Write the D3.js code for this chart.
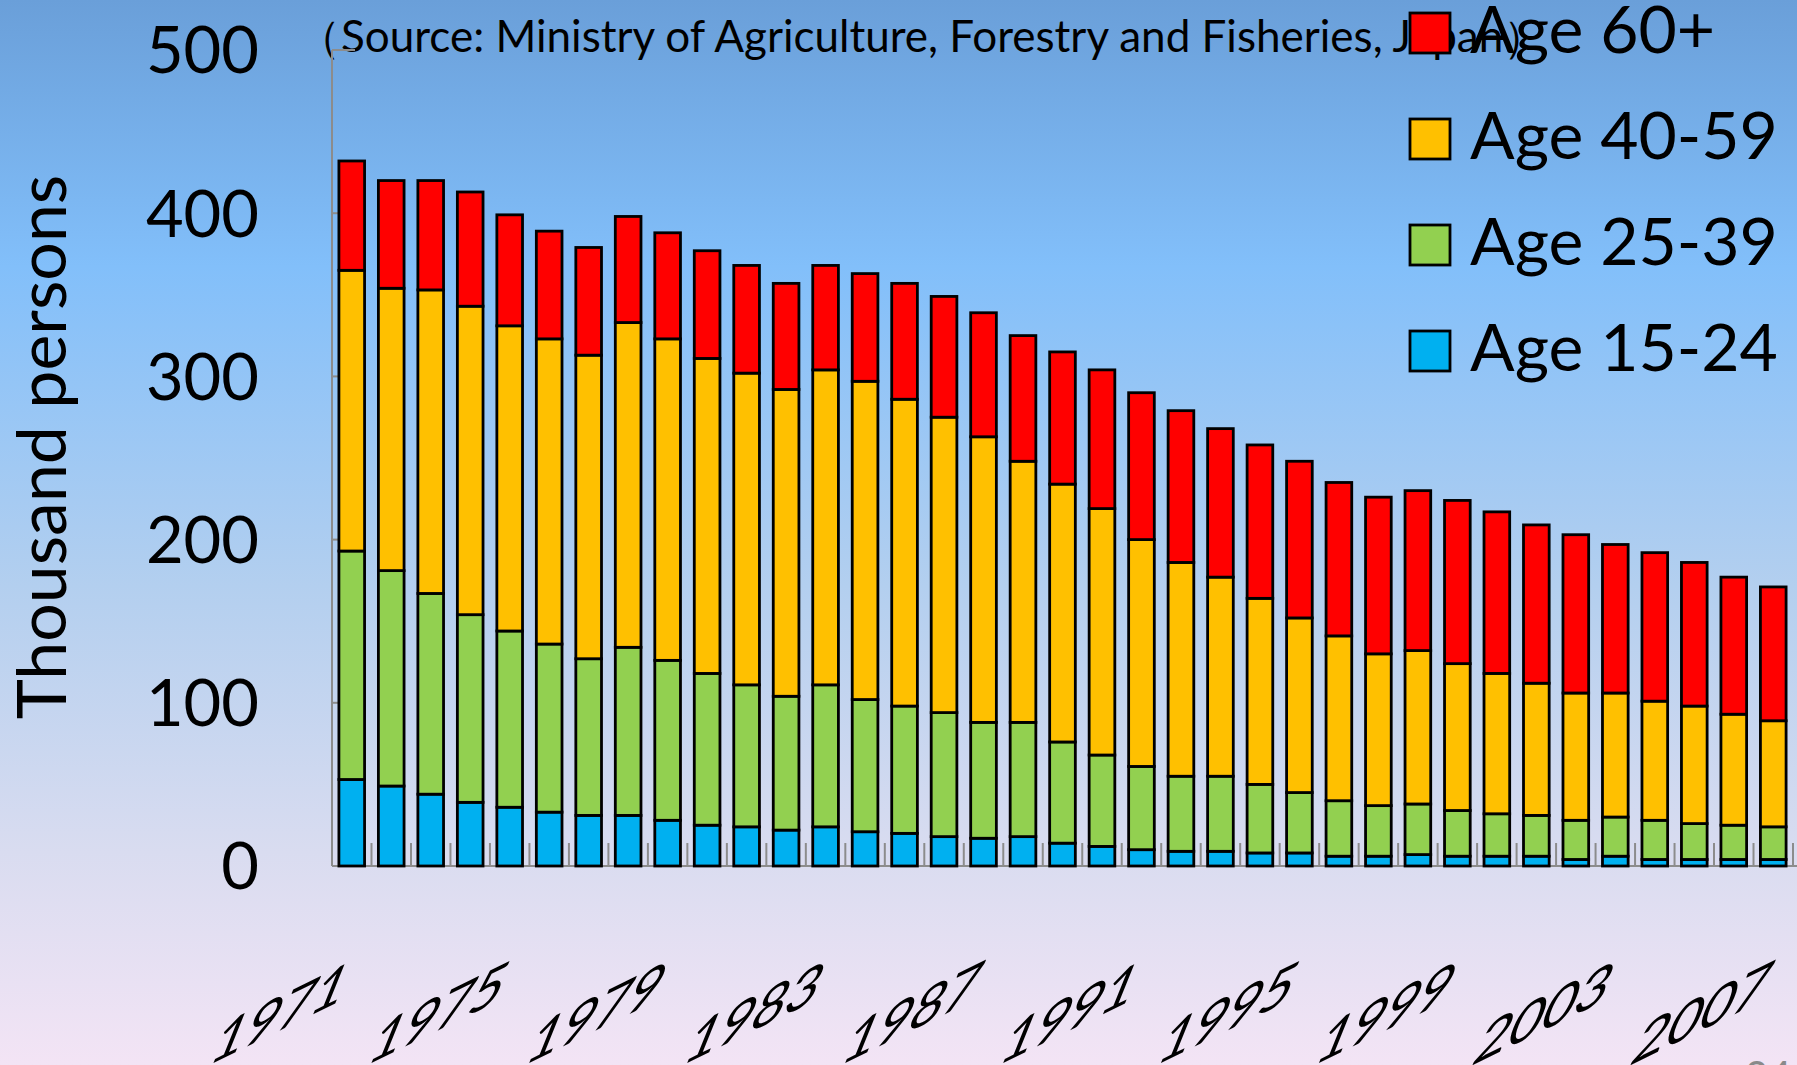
<!DOCTYPE html>
<html><head><meta charset="utf-8">
<script src="https://cdn.jsdelivr.net/npm/d3@7"></script>
<style>html,body{margin:0;padding:0;overflow:hidden;background:#fff}svg{display:block}</style>
</head><body><svg id="c" width="1797" height="1065"></svg>
<script>
const years = [1971,1972,1973,1974,1975,1976,1977,1978,1979,1980,1981,1982,1983,1984,1985,1986,1987,1988,1989,1990,1991,1992,1993,1994,1995,1996,1997,1998,1999,2000,2001,2002,2003,2004,2005,2006,2007];
const age1524 = [53,49,44,39,36,33,31,31,28,25,24,22,24,21,20,18,17,18,14,12,10,9,9,8,8,6,6,7,6,6,6,4,6,4,4,4,4];
const age2539 = [140,132,123,115,108,103,96,103,98,93,87,82,87,81,78,76,71,70,62,56,51,46,46,42,37,34,31,31,28,26,25,24,24,24,22,21,20];
const age4059 = [172,173,186,189,187,187,186,199,197,193,191,188,193,195,188,181,175,160,158,151,139,131,122,114,107,101,93,94,90,86,81,78,76,73,72,68,65];
const age60plus = [67,66,67,70,68,66,66,65,65,66,66,65,64,66,71,74,76,77,81,85,90,93,91,94,96,94,96,98,100,99,97,97,91,91,88,84,82];
const seriesKeys = ["a1524","a2539","a4059","a60"];
const seriesNames = ["Age 15-24","Age 25-39","Age 40-59","Age 60+"];
const seriesColors = ["#00B0F0","#92D050","#FFC000","#FF0000"];
const yTicks = [0,100,200,300,400,500];
const xLabelYears = [1971,1975,1979,1983,1987,1991,1995,1999,2003,2007];
const yTitle = "Thousand persons";
const sourceText = "（Source: Ministry of Agriculture, Forestry and Fisheries, Japan）";

const svg = d3.select("#c");
const W = 1797, H = 1065;
const FONT = "Lato, 'Open Sans', sans-serif";

// background gradient
const defs = svg.append("defs");
const grad = defs.append("linearGradient").attr("id","bg").attr("x1",0).attr("y1",0).attr("x2",0).attr("y2",1);
[[0,"#6a9fd9"],[0.25,"#82bffa"],[0.55,"#b3cfef"],[0.8,"#d9dcf0"],[1,"#f3e4f5"]].forEach(([o,c])=>grad.append("stop").attr("offset",o).attr("stop-color",c));
svg.append("rect").attr("width",W).attr("height",H).attr("fill","url(#bg)");

const x0 = 332, x1 = 1793, yBase = 866, yTop = 50;
const x = d3.scaleBand().domain(years).range([x0,x1]).paddingInner(0.35).paddingOuter(0.175);
const y = d3.scaleLinear().domain([0,500]).range([yBase,yTop]);

const table = years.map((yr,i)=>({year:yr,a1524:age1524[i],a2539:age2539[i],a4059:age4059[i],a60:age60plus[i]}));
const stacked = d3.stack().keys(seriesKeys)(table);

// source text (drawn under legend)
svg.append("text").attr("x",297).attr("y",52).attr("font-family",FONT).attr("font-size",44).attr("fill","#000").text(sourceText);

// axes
const axisColor = "#8c8c8c";
svg.append("line").attr("x1",x0).attr("x2",x0).attr("y1",yTop).attr("y2",yBase).attr("stroke",axisColor).attr("stroke-width",2);
svg.append("line").attr("x1",x0).attr("x2",W).attr("y1",yBase).attr("y2",yBase).attr("stroke",axisColor).attr("stroke-width",2);
svg.selectAll(".yt").data(yTicks).enter().append("line")
  .attr("x1",x0).attr("x2",x0+23).attr("y1",d=>y(d)).attr("y2",d=>y(d)).attr("stroke",axisColor).attr("stroke-width",2);
const step = x.step();
svg.selectAll(".xt").data(years).enter().append("line")
  .attr("x1",(d,i)=>x0+step*(i+1)).attr("x2",(d,i)=>x0+step*(i+1))
  .attr("y1",yBase).attr("y2",yBase-23).attr("stroke",axisColor).attr("stroke-width",2);

// bars
svg.selectAll(".series").data(stacked).enter().append("g")
  .attr("fill",(d,i)=>seriesColors[i])
  .selectAll("rect").data(d=>d).enter().append("rect")
  .attr("x",d=>x(d.data.year)).attr("width",x.bandwidth())
  .attr("y",d=>y(d[1])).attr("height",d=>y(d[0])-y(d[1]))
  .attr("stroke","#000").attr("stroke-width",2.8);

// y tick labels
svg.selectAll(".yl").data(yTicks).enter().append("text")
  .attr("x",259).attr("y",d=>y(d)).attr("dy","0.36em").attr("text-anchor","end")
  .attr("font-family",FONT).attr("font-size",65).attr("fill","#000").text(d=>d);

// x labels: rising baseline with slanted glyphs like the original
const ba = 26*Math.PI/180, sa = 22*Math.PI/180, ha = 1.03, vb = 1.045;
const m = [ha*Math.cos(ba), -ha*Math.sin(ba), -vb*Math.sin(sa), vb*Math.cos(sa)].map(v=>v.toFixed(4)).join(",");
svg.selectAll(".xl").data(xLabelYears).enter().append("text")
  .attr("transform",d=>`matrix(${m},${(x(d)+x.bandwidth()/2-79).toFixed(1)},1034)`)
  .attr("text-anchor","middle").attr("font-family",FONT).attr("font-size",62).attr("fill","#000").text(d=>d);

// y title
svg.append("text").attr("transform","translate(66,447) rotate(-90)").attr("text-anchor","middle")
  .attr("font-family",FONT).attr("font-size",68).attr("fill","#000").text(yTitle);

// legend (top to bottom: 60+, 40-59, 25-39, 15-24)
const legOrder = [3,2,1,0];
const leg = svg.selectAll(".leg").data(legOrder).enter().append("g")
  .attr("transform",(d,i)=>`translate(1409,${12+i*106})`);
leg.append("rect").attr("x",1).attr("y",1).attr("width",40).attr("height",40)
  .attr("fill",d=>seriesColors[d]).attr("stroke","#000").attr("stroke-width",2.8);
leg.append("text").attr("x",61).attr("y",41).attr("font-family",FONT).attr("font-size",66).attr("fill","#000").text(d=>seriesNames[d]);

// page number (partially visible)
svg.append("text").attr("x",1745).attr("y",1090).attr("font-family",FONT).attr("font-size",40).attr("fill","#8a8a8a").text("24");
</script></body></html>
